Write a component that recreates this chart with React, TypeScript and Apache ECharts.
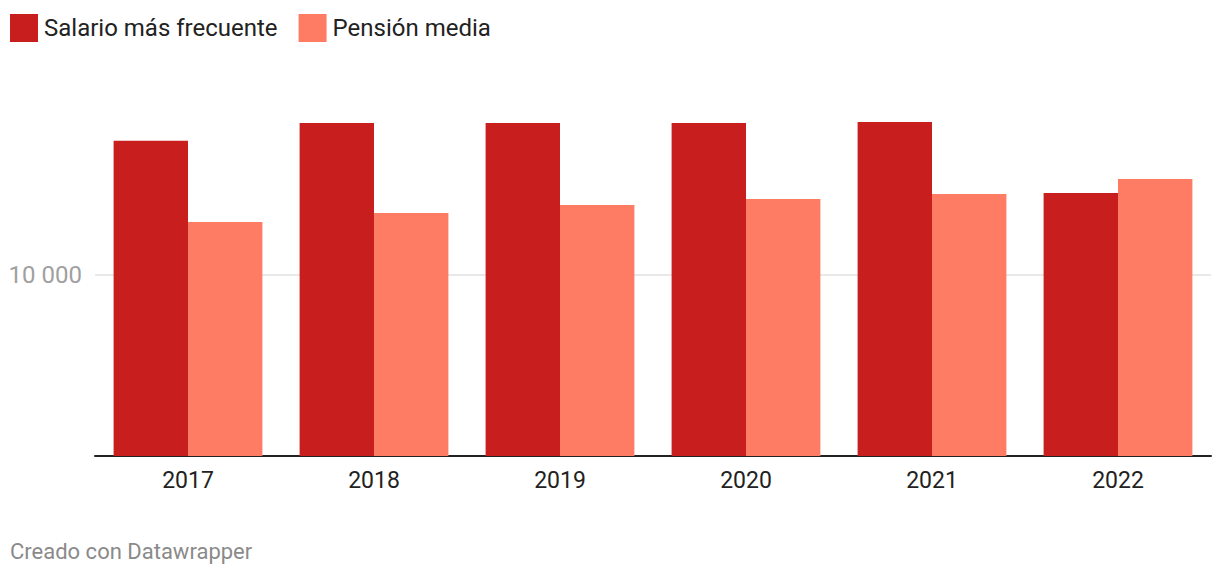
import React, { useEffect, useRef } from "react";
import * as echarts from "echarts";

const years = ["2017", "2018", "2019", "2020", "2021", "2022"];
const salario = [17420, 18400, 18400, 18400, 18450, 14530];
const pension = [12930, 13430, 13870, 14200, 14480, 15300];
const seriesNames = ["Salario más frecuente", "Pensión media"];
const footer = "Creado con Datawrapper";

export default function App() {
  const ref = useRef<HTMLDivElement>(null);
  useEffect(() => {
    const chart = echarts.init(ref.current!, null, { renderer: "svg" });
    chart.setOption({
      animation: false,
      textStyle: { fontFamily: "Roboto" },
      legend: {
        left: 10,
        top: 14,
        padding: 0,
        itemWidth: 28,
        itemHeight: 28,
        itemGap: 21,
        icon: "rect",
        textStyle: { fontSize: 24, color: "#222", fontFamily: "Roboto", padding: [0, 0, 0, 1] },
        data: seriesNames,
      },
      grid: { left: 95, right: 9, top: 94, bottom: 122, containLabel: false },
      xAxis: {
        type: "category",
        data: years,
        axisLine: { lineStyle: { color: "#222", width: 2 } },
        axisTick: { show: false },
        axisLabel: { fontSize: 23, color: "#222", margin: 13, fontFamily: "Roboto" },
      },
      yAxis: {
        type: "value",
        min: 0,
        max: 20000,
        interval: 10000,
        axisLine: { show: false },
        axisTick: { show: false },
        axisLabel: {
          fontSize: 24,
          color: "#a0a0a0",
          margin: 13,
          fontFamily: "Roboto",
          formatter: (v: number) => (v === 10000 ? "10 000" : ""),
        },
        splitLine: {
          lineStyle: { color: ["rgba(0,0,0,0)", "#e2e2e2", "rgba(0,0,0,0)"], width: 1.5 },
        },
      },
      series: [
        {
          name: seriesNames[0],
          type: "bar",
          data: salario,
          itemStyle: { color: "#c81e1e" },
          barGap: "0%",
          barCategoryGap: "20%",
        },
        {
          name: seriesNames[1],
          type: "bar",
          data: pension,
          itemStyle: { color: "#ff7c64" },
          barGap: "0%",
          barCategoryGap: "20%",
        },
      ],
      graphic: [
        {
          type: "text",
          left: 10,
          top: 540,
          style: { text: footer, fontSize: 22, fill: "#8a8a8a", fontFamily: "Roboto" },
        },
      ],
    });
    return () => chart.dispose();
  }, []);
  return <div ref={ref} style={{ width: 1220, height: 578, position: "absolute", left: 0, top: 0 }} />;
}
